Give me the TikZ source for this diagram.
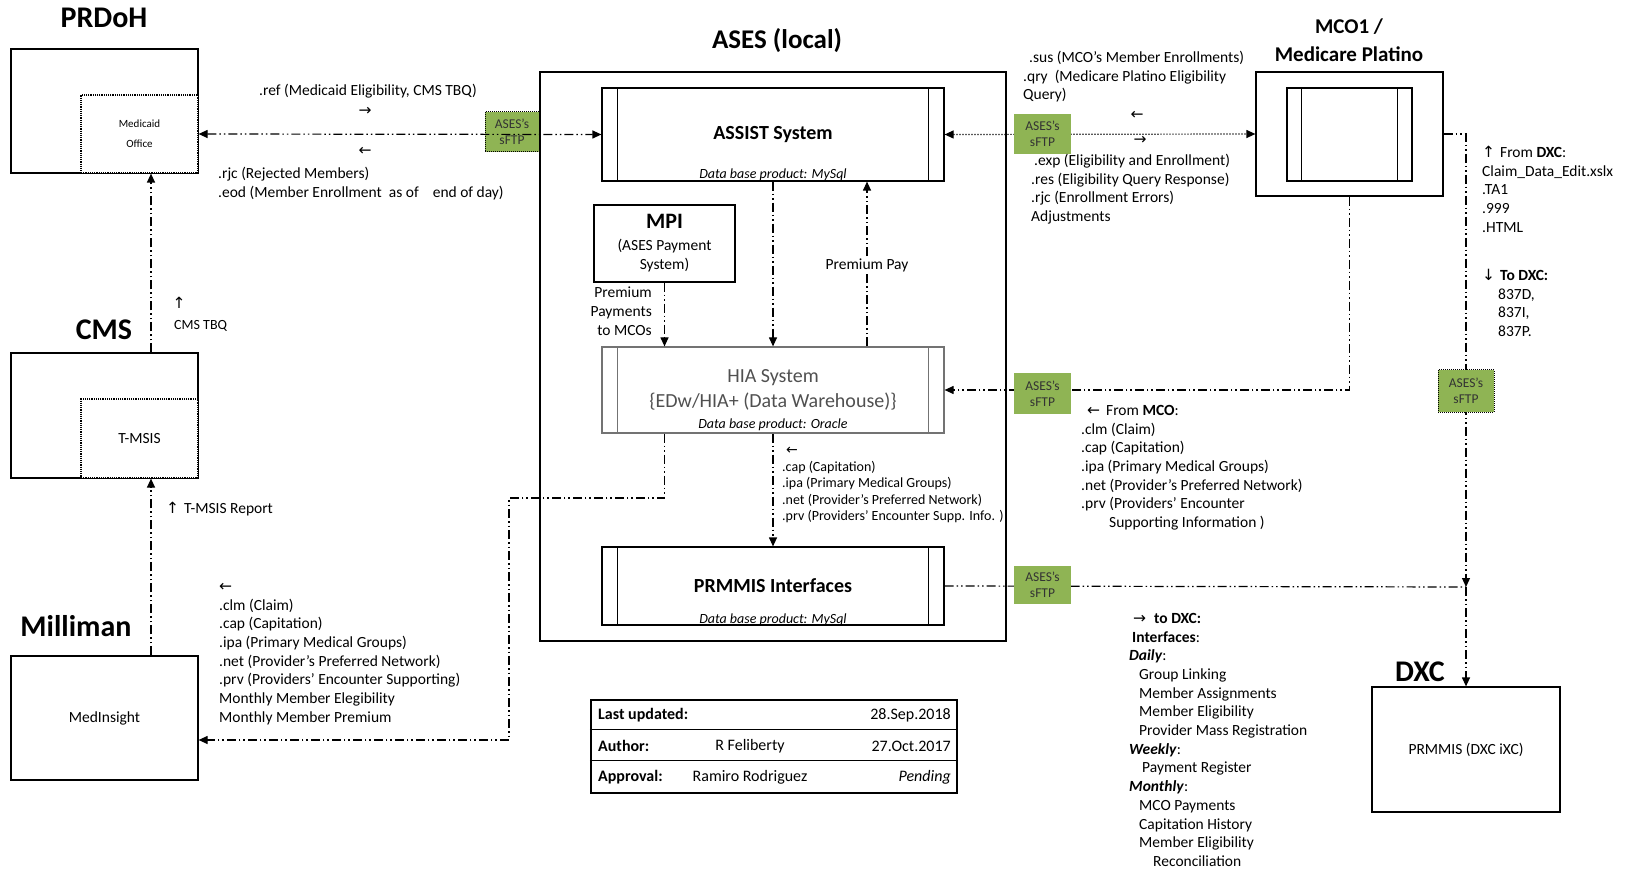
\documentclass[tikz,border=0pt]{standalone}
\usepackage{fontspec}
\setmainfont{Carlito}
\newfontfamily\symfont{DejaVu Sans}
\usepackage{tikz}
\usetikzlibrary{positioning}
\usetikzlibrary{arrows.meta}
\definecolor{sftpgreen}{RGB}{143,180,84}
\definecolor{hiagray}{RGB}{80,80,80}
\newcommand{\flowR}{{\symfont →}}
\newcommand{\flowL}{{\symfont ←}}
\newcommand{\flowU}{{\symfont ↑}}
\newcommand{\flowD}{{\symfont ↓}}

\begin{document}
\begin{tikzpicture}[x=1pt,y=-1pt,
		flow/.style={line width=1.2pt, dash pattern=on 9pt off 3pt on 1.5pt off 3pt on 1.5pt off 3pt, >={Triangle[length=9pt,width=8pt]}},
		dotflow/.style={line width=1.2pt, dash pattern=on 1.2pt off 1.8pt, >={Triangle[length=9pt,width=8pt]}},
		extbox/.style={draw, line width=1.2pt, fill=white, minimum width=187pt, minimum height=124pt, font=\fontsize{15.5}{18}\selectfont},
		subbox/.style={draw, densely dotted, line width=1.2pt, fill=white, minimum width=117pt, minimum height=78pt},
		sysbox/.style={draw, line width=1.2pt, minimum width=342pt, font=\fontsize{20}{25}\selectfont\bfseries, align=center},
		dbtext/.style={inner sep=0pt, font=\fontsize{14}{16}\selectfont\itshape},
		sftp/.style={fill=sftpgreen, text=black!80, align=center, font=\fontsize{13.5}{16}\selectfont, inner sep=0pt, minimum width=57pt, minimum height=40pt},
		heading/.style={inner sep=0pt, font=\fontsize{30}{34}\selectfont\bfseries, align=center},
		txt/.style={inner sep=0pt, align=left, font=\fontsize{15.5}{18.7}\selectfont},
		smalltxt/.style={inner sep=0pt, align=left, font=\fontsize{14}{16.5}\selectfont},
		tbl/.style={inner sep=0pt, font=\fontsize{16}{19}\selectfont},
	]
	\useasboundingbox (0,0) rectangle (1625,874);

	% ASES (local)
	\node[draw, line width=1.2pt, minimum width=466pt, minimum height=569pt] (ases) at (773,356.5) {};
	\node[heading, font=\fontsize{27}{30}\selectfont\bfseries] (asesttl) at (777,41) {ASES (local)};

	\node[sysbox, minimum height=93pt] (assist) at (773,134.5) {ASSIST System};
	\node[dbtext, above=1pt of assist.south] (assistdb) {Data base product: MySql};
	\node[sysbox, draw=hiagray!80, text=hiagray, font=\fontsize{20}{25}\selectfont, minimum height=86pt] (hia) at (773,390) {HIA System\\\{EDw/HIA+ (Data Warehouse)\}};
	\node[dbtext, above=3pt of hia.south] (hiadb) {Data base product: Oracle};
	\node[sysbox, minimum height=78pt] (prmmis) at (773,586) {PRMMIS Interfaces};
	\node[dbtext, above=0pt of prmmis.south] (prmmisdb) {Data base product: MySql};
	\foreach \sys/\col in {assist/black, hia/hiagray!80, prmmis/black} {
		\draw[line width=1.2pt, color=\col] ([xshift=16pt]\sys.north west) -- ([xshift=16pt]\sys.south west);
		\draw[line width=1.2pt, color=\col] ([xshift=-16pt]\sys.north east) -- ([xshift=-16pt]\sys.south east);
	}

	\node[draw, line width=1.2pt, minimum width=141pt, minimum height=77pt, align=center, font=\fontsize{15.5}{19}\selectfont] (mpi) at (664.5,243.5) {{\fontsize{22}{24}\selectfont\bfseries MPI}\\[3pt](ASES Payment\\System)};
	\node[txt, align=right, anchor=north east] (mpilbl) at (652,287) {Premium\\Payments\\to MCOs};
	\node[txt, fill=white, inner sep=2pt] (ppay) at (867,265) {Premium Pay};

	\draw[flow,->] (mpi.south) -- (mpi.south |- hia.north);
	\draw[flow,->] (assist.south) -- (hia.north);
	\draw[flow] (hia.north -| ppay) -- (ppay.south);
	\draw[flow,->] (ppay.north) -- (assist.south -| ppay);
	\draw[flow,->] (hia.south) -- (prmmis.north);

	% outside parties
	\node[extbox] (prdoh) at (104.5,111) {};
	\node[subbox, font=\fontsize{11}{20}\selectfont, align=center] (medoff) at (139.5,134) {Medicaid\\Office};
	\node[heading] (prdohttl) at (104,18) {PRDoH};

	\node[extbox, minimum height=125pt] (cms) at (104.5,415.5) {};
	\node[subbox, minimum height=79pt, font=\fontsize{15.5}{18}\selectfont] (tmsis) at (139.5,438.5) {T-MSIS};
	\node[heading] (cmsttl) at (104,330) {CMS};

	\node[extbox] (medins) at (104.5,718) {MedInsight};
	\node[heading] (millttl) at (76,626) {Milliman};

	\node[extbox, minimum width=188pt, minimum height=125pt] (dxc) at (1466,749.5) {PRMMIS (DXC iXC)};
	\node[heading] (dxcttl) at (1420,672) {DXC};

	\node[extbox] (mco) at (1349.5,134) {};
	\node[draw, line width=1.2pt, minimum width=125pt, minimum height=93pt] (mcoin) at (1349.5,134.5) {};
	\draw[line width=1.2pt] ([xshift=15pt]mcoin.north west) -- ([xshift=15pt]mcoin.south west);
	\draw[line width=1.2pt] ([xshift=-15pt]mcoin.north east) -- ([xshift=-15pt]mcoin.south east);
	\node[heading, font=\fontsize{21}{28}\selectfont\bfseries] (mcottl) at (1349,40) {MCO1 /\\Medicare Platino};

	% transfers
	\node[sftp, draw, densely dotted, line width=1pt, minimum width=54pt] (sftp1) at (512,132) {ASES’s\\sFTP};
	\draw[flow,<->] (medoff.east) -- (assist.west);
	\draw[flow,->] ([xshift=46.5pt]cms.north) -- ([xshift=11.5pt]medoff.south);
	\draw[flow,->] ([xshift=46.5pt]medins.north) -- ([xshift=11.5pt]tmsis.south);

	\draw[dotflow,<->] (assist.east) -- (mco.west);
	\node[sftp] (sftp2) at (1042.5,134) {ASES’s\\sFTP};

	\draw[flow,->] (mco.south) |- (hia.east);
	\node[sftp, minimum height=41pt] (sftp3) at (1042.5,393.5) {ASES’s\\sFTP};

	\coordinate (hiabend) at (509,498);
	\draw[flow,->] (hia.south -| mpi.south) |- (hiabend) |- ([yshift=-22pt]medins.east);

	\coordinate (dxcjoin) at (1466,587);
	\draw[flow,->] (mco.east) -| (dxcjoin);
	\draw[flow] (prmmis.east) -- (dxcjoin);
	\draw[flow,->] (dxcjoin) -- (dxc.north);
	\node[sftp, draw, densely dotted, line width=1pt, minimum width=56pt, minimum height=42pt] (sftp4) at (1466,391) {ASES’s\\sFTP};
	\node[sftp, minimum height=38pt] (sftp5) at (1042.5,585) {ASES’s\\sFTP};

	% file labels
	\node[txt, anchor=west] (reflbl) at (259,91) {.ref (Medicaid Eligibility, CMS TBQ)};
	\node[txt] (refto) at (365,111) {\flowR};
	\node[txt] (reffrom) at (365,151) {\flowL};
	\node[txt, anchor=north west] (rjclbl) at (218,167) {.rjc (Rejected Members)\\.eod (Member Enrollment\ \ as of\ \ \ \ end of day)};

	\node[txt, anchor=north west] (suslbl) at (1023,51) {\hspace*{6pt}.sus (MCO’s Member Enrollments)\\.qry\ \ (Medicare Platino Eligibility\\Query)};
	\node[txt] (mcofrom) at (1137,115) {\flowL};
	\node[txt] (mcoto) at (1140,140) {\flowR};
	\node[txt, anchor=north west] (explbl) at (1031,154) {\hspace*{3pt}.exp (Eligibility and Enrollment)\\.res (Eligibility Query Response)\\.rjc (Enrollment Errors)\\Adjustments};

	\node[txt, anchor=north west] (fromdxc) at (1482,146) {\flowU\hspace*{5pt}From \textbf{DXC}:\\Claim\_Data\_Edit.xslx\\.TA1\\.999\\.HTML};
	\node[txt, anchor=north west] (todxc) at (1482,269) {\flowD\hspace*{5pt}\textbf{To DXC:}\\\hspace*{16pt}837D,\\\hspace*{16pt}837I,\\\hspace*{16pt}837P.};

	\node[txt] (tbqup) at (179,303) {\flowU};
	\node[txt, font=\fontsize{14}{17}\selectfont, anchor=west] (tbqlbl) at (174,326) {CMS TBQ};
	\node[txt, anchor=west] (tmsislbl) at (166,509) {\flowU\hspace*{5pt}T-MSIS Report};

	\node[txt, anchor=north west] (millbl) at (219,583) {\flowL\\.clm (Claim)\\.cap (Capitation)\\.ipa (Primary Medical Groups)\\.net (Provider’s Preferred Network)\\.prv (Providers’ Encounter Supporting)\\Monthly Member Elegibility\\Monthly Member Premium};

	\node[smalltxt, anchor=north west] (hialbl) at (782,447) {\hspace*{4pt}\flowL\\.cap (Capitation)\\.ipa (Primary Medical Groups)\\.net (Provider’s Preferred Network)\\.prv (Providers’ Encounter Supp. Info. )};

	\node[txt, anchor=north west] (mcolbl) at (1081,405) {\hspace*{6pt}\flowL\hspace*{6pt}From \textbf{MCO}:\\.clm (Claim)\\.cap (Capitation)\\.ipa (Primary Medical Groups)\\.net (Provider’s Preferred Network)\\.prv (Providers’ Encounter\\\hspace*{28pt}Supporting Information )};

	\node[txt, anchor=north west] (dxclbl) at (1129,613) {\hspace*{4pt}\flowR\hspace*{8pt}\textbf{to DXC:}\\\hspace*{3pt}\textbf{Interfaces}:\\\textbf{\textit{Daily}}:\\\hspace*{10pt}Group Linking\\\hspace*{10pt}Member Assignments\\\hspace*{10pt}Member Eligibility\\\hspace*{10pt}Provider Mass Registration\\\textbf{\textit{Weekly}}:\\\hspace*{13pt}Payment Register\\\textbf{\textit{Monthly}}:\\\hspace*{10pt}MCO Payments\\\hspace*{10pt}Capitation History\\\hspace*{10pt}Member Eligibility\\\hspace*{24pt}Reconciliation};

	% revision table
	\node[draw, line width=2.5pt, minimum width=366pt, minimum height=93pt] (infotbl) at (774,746.5) {};
	\draw[line width=1pt] ([yshift=-31pt]infotbl.north west) -- ([yshift=-31pt]infotbl.north east);
	\draw[line width=1pt] ([yshift=-62pt]infotbl.north west) -- ([yshift=-62pt]infotbl.north east);
	\node[tbl, anchor=west] (updlbl) at (598,715) {\textbf{Last updated:}};
	\node[tbl, anchor=east] (upddate) at (951,715) {28.Sep.2018};
	\node[tbl, anchor=west] (authlbl) at (598,746) {\textbf{Author:}};
	\node[tbl] (authname) at (750,746) {R Feliberty};
	\node[tbl, anchor=east] (authdate) at (951,746) {27.Oct.2017};
	\node[tbl, anchor=west] (applbl) at (598,777) {\textbf{Approval:}};
	\node[tbl] (appname) at (750,777) {Ramiro Rodriguez};
	\node[tbl, anchor=east] (appstat) at (951,777) {\textit{Pending}};
\end{tikzpicture}
\end{document}
